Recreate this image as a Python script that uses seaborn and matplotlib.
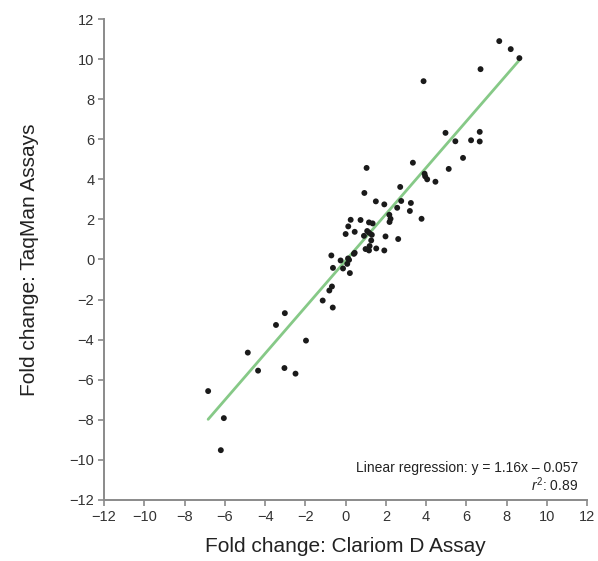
import matplotlib
matplotlib.use("Agg")
import matplotlib.pyplot as plt
import seaborn as sns
import numpy as np
import pandas as pd

# Data
clariom = [7.63, 8.2, 8.63, 6.7, 3.87,
           4.96, 6.66, 5.45, 6.23, 6.66, 5.83, 5.12, 3.92, 4.05, 4.46, 3.95,
           1.04, 3.34, 2.71, 0.93, 1.5, 1.92, 2.76, 3.24, 3.19, 2.56, 3.77, 2.17, 2.23, 2.18,
           0.25, 0.74, 1.16, 1.34, 0.13, 0.45, 0.0, 1.07, 1.17, 0.91, 1.3, 1.98, 2.61, 1.27,
           1.19, 0.99, 1.16, 1.52, 1.92, 0.45, 0.41,
           -0.71, -0.25, 0.17, 0.08, -0.63, -0.13, 0.21, 0.12,
           -0.68, -0.81, -1.14, -0.64, -3.02, -3.46, -1.97, -4.86, -4.35, -3.04, -2.49,
           -6.83, -6.05, -6.2]
taqman = [10.9, 10.5, 10.05, 9.5, 8.9,
          6.32, 6.37, 5.9, 5.95, 5.89, 5.07, 4.52, 4.28, 4.0, 3.88, 4.15,
          4.57, 4.83, 3.62, 3.32, 2.9, 2.75, 2.92, 2.82, 2.42, 2.58, 2.03, 2.23, 2.03, 1.87,
          1.98, 1.97, 1.85, 1.8, 1.65, 1.38, 1.27, 1.42, 1.33, 1.18, 1.23, 1.15, 1.02, 0.95,
          0.67, 0.52, 0.45, 0.55, 0.45, 0.33, 0.28,
          0.2, -0.05, -0.02, -0.22, -0.42, -0.45, -0.68, 0.05,
          -1.35, -1.55, -2.05, -2.4, -2.68, -3.27, -4.05, -4.65, -5.55, -5.42, -5.7,
          -6.57, -7.92, -9.52]
slope = 1.16
intercept = -0.057
r_squared = 0.89
ticks = list(range(-12, 13, 2))

df = pd.DataFrame({"clariom": clariom, "taqman": taqman})
x_ends = np.array([min(clariom), max(clariom)])
line_df = pd.DataFrame({"x": x_ends, "y": slope * x_ends + intercept})

sns.set_style("white")
plt.rcParams['font.family'] = ['Liberation Sans', 'DejaVu Sans']
plt.rcParams['mathtext.fontset'] = 'custom'
plt.rcParams['mathtext.rm'] = 'Liberation Sans'
plt.rcParams['mathtext.it'] = 'Liberation Sans:italic'

fig = plt.figure(figsize=(5.98, 5.61), dpi=100)
ax = fig.add_axes([0.174, 0.109, 0.808, 0.857])

sns.lineplot(data=line_df, x="x", y="y", ax=ax, color="#86c987", linewidth=2.0, zorder=2)
sns.scatterplot(data=df, x="clariom", y="taqman", ax=ax, color="#1a1a1a",
                s=18, edgecolor="none", zorder=3)

ax.set_xlim(-12, 12)
ax.set_ylim(-12, 12)
ax.set_xticks(ticks)
ax.set_yticks(ticks)
ax.set_xticklabels([str(t).replace('-', '\u2212') for t in ticks])
ax.set_yticklabels([str(t).replace('-', '\u2212') for t in ticks])
for s in ["top", "right"]:
    ax.spines[s].set_visible(False)
for s in ["left", "bottom"]:
    ax.spines[s].set_color("#8a8a8a")
    ax.spines[s].set_linewidth(1.4)
ax.tick_params(axis="both", direction="out", length=4, width=1.2, color="#8a8a8a",
               labelsize=10.5, labelcolor="#333333", pad=3,
               bottom=True, left=True)

ax.set_xlabel("Fold change: Clariom D Assay", fontsize=15, color="#222222", labelpad=10)
ax.set_ylabel("Fold change: TaqMan Assays", fontsize=15, color="#222222", labelpad=22)

ax.text(11.55, -10.4, f"Linear regression: y = {slope}x \u2013 {abs(intercept)}",
        ha="right", va="center", fontsize=10, color="#222222")
ax.text(11.55, -11.25, r"$\it{r}^2$" + f": {r_squared}",
        ha="right", va="center", fontsize=10, color="#222222")

fig.savefig("out.png", dpi=100)
